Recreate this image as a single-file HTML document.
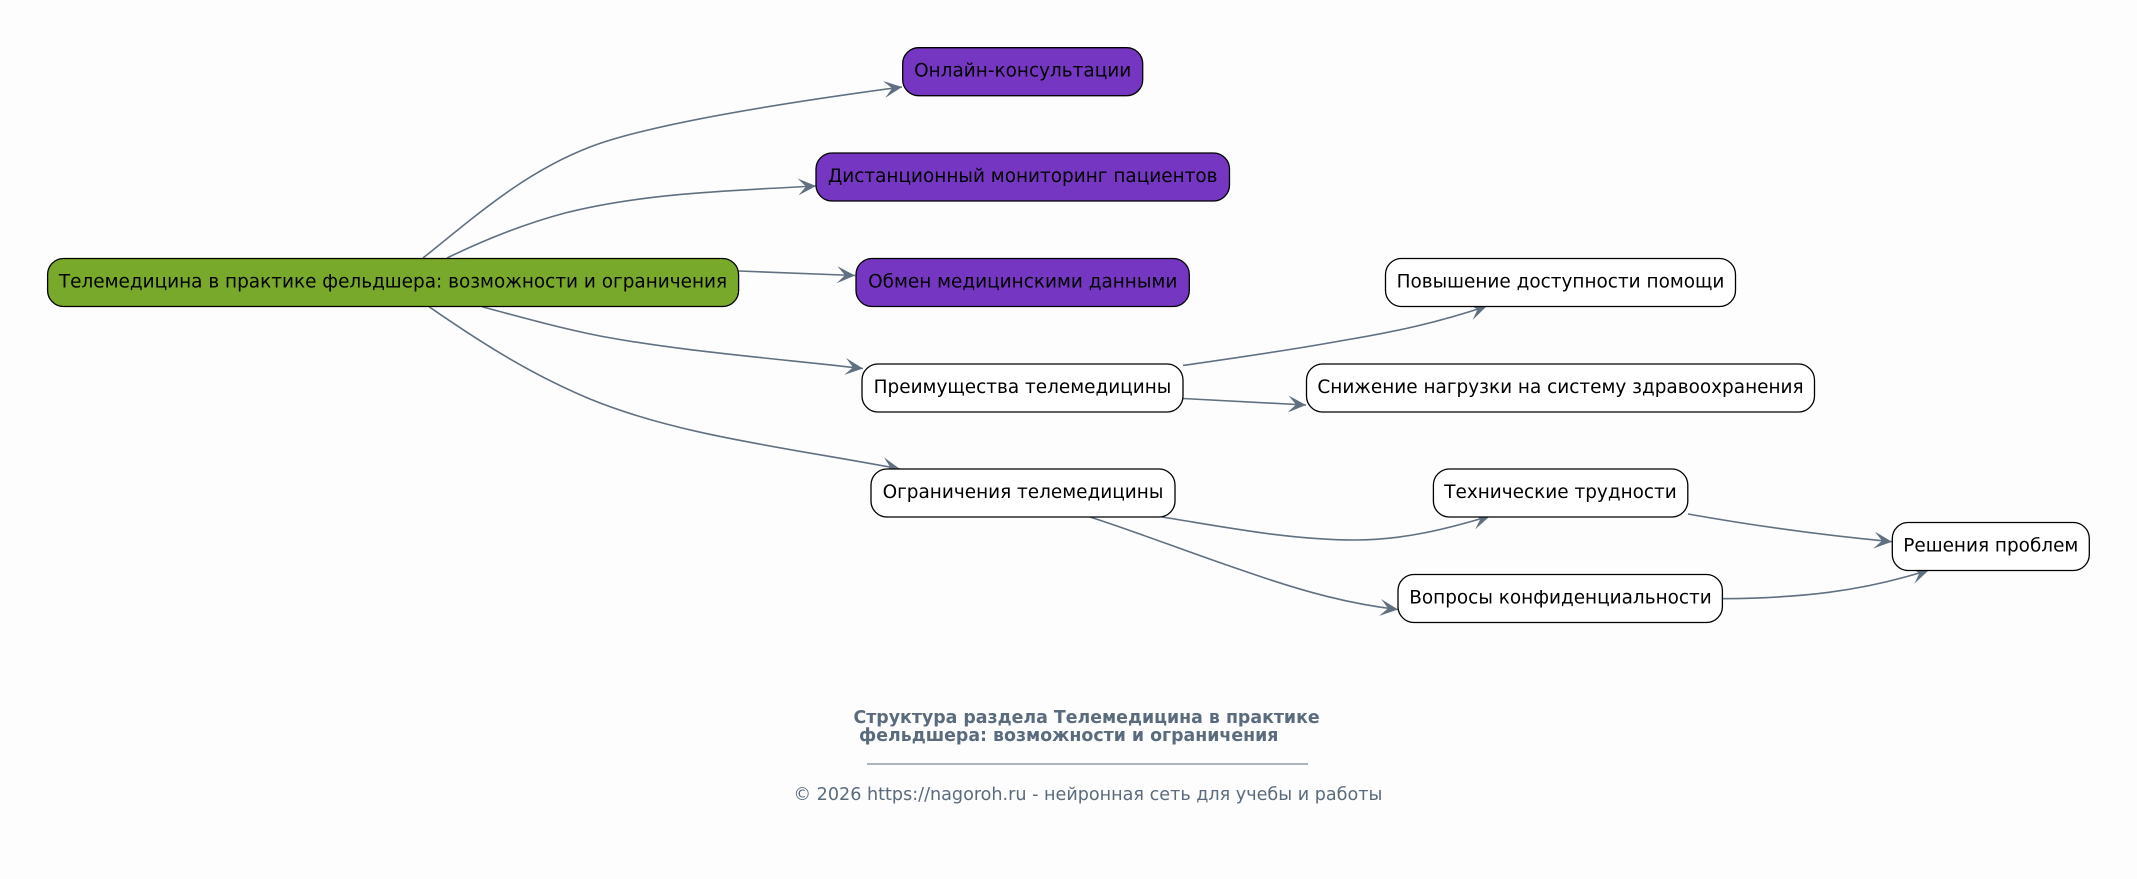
<!DOCTYPE html>
<html><head><meta charset="utf-8"><style>
html,body{margin:0;padding:0;background:#fdfdfd;width:2137px;height:879px;overflow:hidden}
svg{display:block}
.e{fill:none;stroke:#607080;stroke-width:1.6;marker-end:url(#a)}
.n{stroke:#000;stroke-width:1.3}
.t{font-family:"DejaVu Sans","Liberation Sans",sans-serif;font-size:18.45px;fill:#000;text-anchor:middle}
.f{font-family:"DejaVu Sans","Liberation Sans",sans-serif;fill:#5a6b7d}
</style></head><body>
<svg width="2137" height="879" viewBox="0 0 2137 879" xmlns="http://www.w3.org/2000/svg">
<defs><marker id="a" markerUnits="userSpaceOnUse" markerWidth="24" markerHeight="24" refX="20" refY="12" orient="auto" viewBox="0 0 24 24"><path d="M2,3.5 L20,12 L2,20.5 L10,12 Z" fill="#607080"/></marker></defs>
<rect width="2137" height="879" fill="#fdfdfd"/>
<path class="e" d="M423,258 C478,214 525,172 590,147 C650,124 790,102 902,87"/>
<path class="e" d="M447,258 C480,242 520,225 565,213 C640,194 720,191 816,186"/>
<path class="e" d="M739,271 L855,275.5"/>
<path class="e" d="M482,306.7 C520,317 560,328 600,336 C680,351 770,358 863,368.5"/>
<path class="e" d="M429,306.7 C470,335 525,372 590,399 C680,436 790,448 900,469"/>
<path class="e" d="M1183,365.5 C1235,358 1285,351 1340,341 C1395,332 1440,322 1487,306"/>
<path class="e" d="M1183,398.5 L1306,405"/>
<path class="e" d="M1162,517 C1225,527 1290,540 1355,540 C1405,540 1450,528 1490,516"/>
<path class="e" d="M1090,517 C1140,533 1190,553 1250,573 C1305,592 1350,604 1398,609.5"/>
<path class="e" d="M1688,514 C1750,525 1820,535 1892,541.7"/>
<path class="e" d="M1722.5,598.7 C1800,598 1860,592 1929,570"/>
<rect class="n" x="47.6" y="258.5" width="691" height="48" rx="16" fill="#78a92a"/>
<rect class="n" x="902.7" y="47.7" width="240" height="48" rx="16" fill="#7536c2"/>
<rect class="n" x="816" y="153" width="413.5" height="48" rx="16" fill="#7536c2"/>
<rect class="n" x="856" y="258.5" width="333.3" height="48" rx="16" fill="#7536c2"/>
<rect class="n" x="862" y="364" width="321" height="48" rx="16" fill="#fff"/>
<rect class="n" x="871" y="469" width="304" height="48" rx="16" fill="#fff"/>
<rect class="n" x="1385.5" y="258.5" width="350" height="48" rx="16" fill="#fff"/>
<rect class="n" x="1306.5" y="364" width="508" height="48" rx="16" fill="#fff"/>
<rect class="n" x="1433.4" y="469" width="254.4" height="48" rx="16" fill="#fff"/>
<rect class="n" x="1398" y="574.5" width="324.4" height="48" rx="16" fill="#fff"/>
<rect class="n" x="1892.3" y="522.5" width="197" height="48" rx="16" fill="#fff"/>
<text class="t" x="393" y="287.5">Телемедицина в практике фельдшера: возможности и ограничения</text>
<text class="t" x="1022.7" y="76.5">Онлайн-консультации</text>
<text class="t" x="1022.7" y="182">Дистанционный мониторинг пациентов</text>
<text class="t" x="1022.7" y="287.5">Обмен медицинскими данными</text>
<text class="t" x="1022.5" y="393">Преимущества телемедицины</text>
<text class="t" x="1023" y="498">Ограничения телемедицины</text>
<text class="t" x="1560.5" y="287.5">Повышение доступности помощи</text>
<text class="t" x="1560.5" y="393">Снижение нагрузки на систему здравоохранения</text>
<text class="t" x="1560.5" y="498">Технические трудности</text>
<text class="t" x="1560.5" y="603.5">Вопросы конфиденциальности</text>
<text class="t" x="1990.8" y="551.5">Решения проблем</text>
<text class="f" x="853.5" y="723" font-size="17.36" font-weight="bold">Структура раздела Телемедицина в практике</text>
<text class="f" x="859" y="741" font-size="17.36" font-weight="bold">фельдшера: возможности и ограничения</text>
<line x1="867" y1="764" x2="1308" y2="764" stroke="#5a6b7d" stroke-width="0.9"/>
<text class="f" x="793.5" y="800" font-size="17.58">© 2026 https://nagoroh.ru - нейронная сеть для учебы и работы</text>
</svg>
</body></html>
